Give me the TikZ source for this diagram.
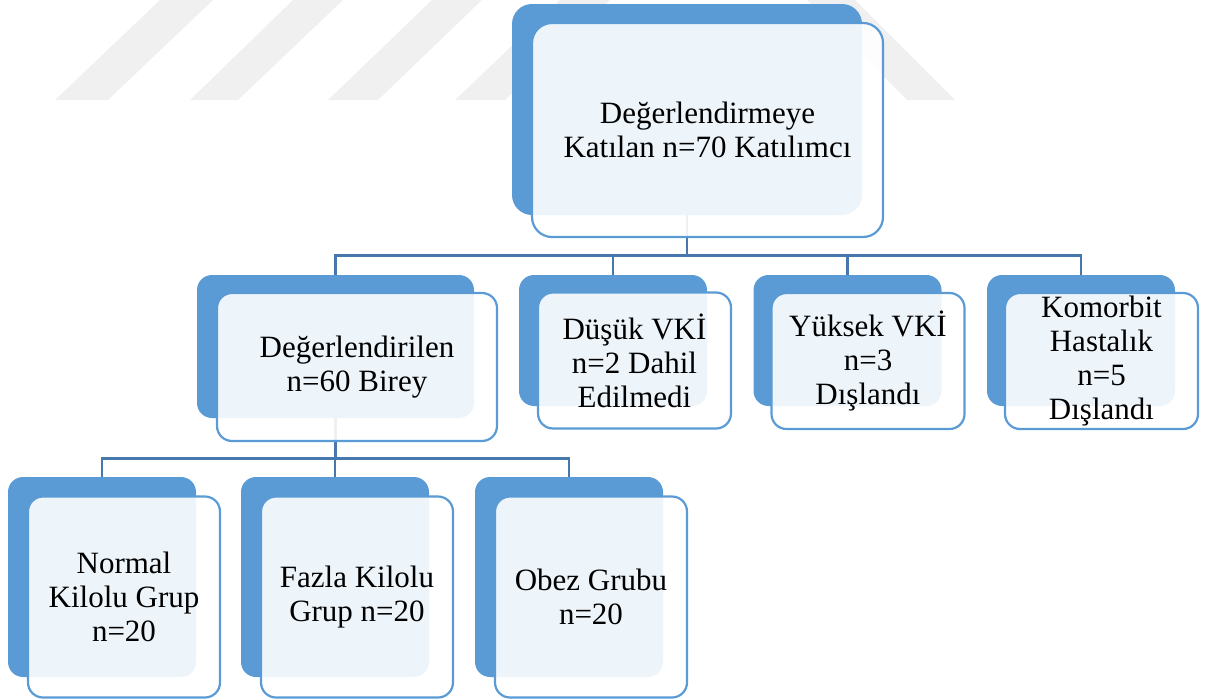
\documentclass[tikz,border=0pt]{standalone}
\usepackage{fontspec}
\setmainfont{Liberation Serif}
\usetikzlibrary{positioning, backgrounds}

\definecolor{boxblue}{HTML}{5B9BD5}
\definecolor{lineblue}{HTML}{4677AD}
\definecolor{markgray}{HTML}{F0F0F0}

\tikzset{
  backbox/.style={fill=boxblue, rounded corners=15pt, inner sep=0pt},
  frontbox/.style={draw=boxblue, line width=2.2pt, fill=white, fill opacity=0.9,
    text opacity=1, rounded corners=15pt, inner sep=0pt, align=center,
    font=\fontsize{31}{34}\selectfont},
  link/.style={draw=lineblue, line width=2.6pt},
}

\begin{document}
\begin{tikzpicture}[x=1pt, y=-1pt]
  \useasboundingbox (0,0) rectangle (1216,699);

  % top box
  \node[backbox, minimum width=350pt, minimum height=211pt, rounded corners=20pt] (top) at (687,109.5) {};
  \node[frontbox, minimum width=351pt, minimum height=214pt, rounded corners=20pt] (topf) at (707.5,130)
    {Değerlendirmeye\\Katılan n=70 Katılımcı};

  % second row
  \node[backbox, minimum width=277pt, minimum height=143pt] (eval) at (335.5,346.5) {};
  \node[frontbox, minimum width=280pt, minimum height=148pt] (evalf) at (357,367)
    {Değerlendirilen\\n=60 Birey};
  \node[backbox, minimum width=188pt, minimum height=131pt] (dusuk) at (613,340.5) {};
  \node[frontbox, minimum width=193pt, minimum height=136pt] (dusukf) at (634.5,360.5)
    {Düşük VKİ\\n=2 Dahil\\Edilmedi};
  \node[backbox, minimum width=188pt, minimum height=131pt] (yuksek) at (847.5,340.5) {};
  \node[frontbox, minimum width=193pt, minimum height=136pt] (yuksekf) at (868,361)
    {Yüksek VKİ\\n=3\\Dışlandı};
  \node[backbox, minimum width=188pt, minimum height=131pt] (komorbit) at (1081,340.5) {};
  \node[frontbox, minimum width=193pt, minimum height=136pt] (komorbitf) at (1101.5,361)
    {Komorbit\\Hastalık\\n=5\\Dışlandı};

  % third row
  \node[backbox, minimum width=188pt, minimum height=200pt] (normal) at (102,577) {};
  \node[frontbox, minimum width=192pt, minimum height=201pt] (normalf) at (124,597)
    {Normal\\Kilolu Grup\\n=20};
  \node[backbox, minimum width=188pt, minimum height=200pt] (fazla) at (335,577) {};
  \node[frontbox, minimum width=192pt, minimum height=201pt] (fazlaf) at (357,597)
    {Fazla Kilolu\\Grup n=20};
  \node[backbox, minimum width=188pt, minimum height=200pt] (obez) at (569,577) {};
  \node[frontbox, minimum width=192pt, minimum height=201pt] (obezf) at (591,597)
    {Obez Grubu\\n=20};

  \begin{scope}[on background layer]
    % watermark
    \fill[markgray] (55,100) -- (108,100) -- (213,0) -- (160,0) -- cycle;
    \fill[markgray] (190,100) -- (238,100) -- (343,0) -- (293,0) -- cycle;
    \fill[markgray] (328,100) -- (378,100) -- (482,0) -- (432,0) -- cycle;
    \fill[markgray] (455,100) -- (505,100) -- (610,0) -- (560,0) -- cycle;
    \fill[markgray] (807,0) -- (855,0) -- (955,100) -- (907,100) -- cycle;
    % connectors
    \foreach \c in {eval,dusuk,yuksek,komorbit}
      \draw[link] (top.south) -- ++(0,40) -| (\c.north);
    \foreach \c in {normal,fazla,obez}
      \draw[link] (eval.south) -- ++(0,40) -| (\c.north);
  \end{scope}
\end{tikzpicture}
\end{document}
